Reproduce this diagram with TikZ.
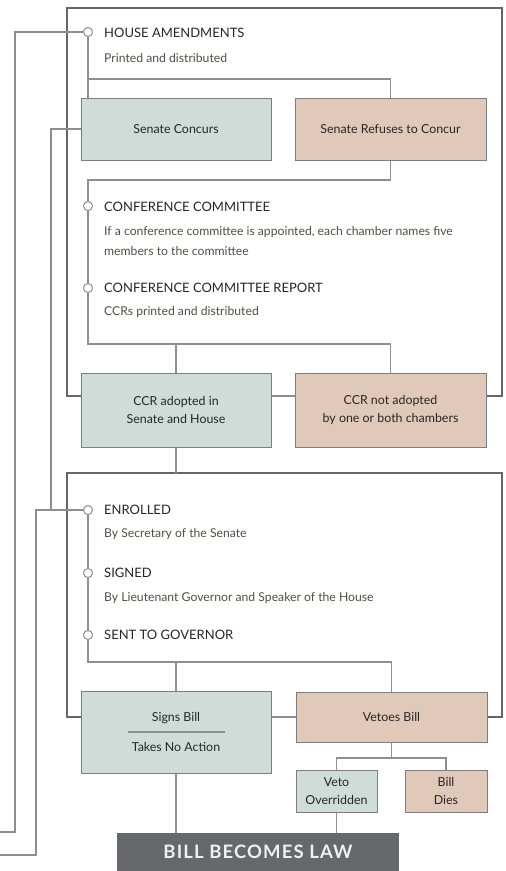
\documentclass[tikz,border=0pt]{standalone}
\usepackage{fontspec}
\setmainfont{Lato}
\usetikzlibrary{positioning}
\definecolor{sage}{HTML}{CFDCD8}
\definecolor{blush}{HTML}{E1C9BA}
\definecolor{boxgray}{HTML}{7E7E7E}
\definecolor{linegray}{HTML}{8E8E8E}
\definecolor{framegray}{HTML}{666666}
\definecolor{slate}{HTML}{67686B}
\definecolor{ink}{HTML}{262626}
\definecolor{notegray}{HTML}{524D49}
\tikzset{
  wire/.style={draw=linegray, line width=1.2pt},
  rim/.style={draw=framegray, line width=2.4pt},
  dot/.style={circle, draw=linegray, fill=white, line width=1pt, minimum size=9pt, inner sep=0pt},
  head/.style={anchor=west, inner sep=0pt, text=ink, font=\fontsize{13}{15}\selectfont},
  note/.style={anchor=west, inner sep=0pt, text=notegray, align=left, font=\fontsize{12.2}{20}\selectfont},
  okbox/.style={draw=boxgray, fill=sage, line width=1pt, inner sep=0pt, align=center, text=ink, font=\fontsize{12.4}{18.5}\selectfont},
  nobox/.style={okbox, fill=blush},
  lawbox/.style={fill=slate, text=white!94!black, inner sep=0pt, font=\fontsize{18.5}{20}\selectfont\bfseries\addfontfeature{LetterSpace=6}}
}
\begin{document}
\begin{tikzpicture}[x=1pt,y=-1pt]
\useasboundingbox (0,0) rectangle (506,871);
\node[okbox, minimum width=190pt, minimum height=62pt] (concur) at (176,129) {Senate Concurs};
\node[nobox, minimum width=191pt, minimum height=62pt] (refuse) at (390.5,129) {Senate Refuses to Concur};
\node[okbox, minimum width=190pt, minimum height=74pt] (adopt) at (176,410) {CCR adopted in\\Senate and House};
\node[nobox, minimum width=191pt, minimum height=74pt] (reject) at (390.5,410) {CCR not adopted\\by one or both chambers};
\node[okbox, minimum width=190pt, minimum height=82pt] (signs) at (176,732) {Signs Bill\\[11.5pt]Takes No Action};
\node[nobox, minimum width=191pt, minimum height=50pt] (veto) at (391.5,717) {Vetoes Bill};
\node[okbox, minimum width=81pt, minimum height=42pt] (override) at (336.5,791) {Veto\\Overridden};
\node[nobox, minimum width=82pt, minimum height=42pt] (dies) at (446,791) {Bill\\Dies};
\node[lawbox, minimum width=282pt, minimum height=38pt] (law) at (258,852) {BILL BECOMES LAW};

\node[dot] (amend) at (88,32) {};
\node[dot] (conf) at (88,206) {};
\node[dot] (report) at (88,288) {};
\node[dot] (enroll) at (88,510) {};
\node[dot] (signed) at (88,573) {};
\node[dot] (sent) at (88,635) {};

\node[head] (amendT) at (104,33) {HOUSE AMENDMENTS};
\node[note] (amendN) at (104,58) {Printed and distributed};
\node[head] (confT) at (104,207) {CONFERENCE COMMITTEE};
\node[note] (confN) at (104,241) {If a conference committee is appointed, each chamber names five\\members to the committee};
\node[head] (reportT) at (104,288) {CONFERENCE COMMITTEE REPORT};
\node[note] (reportN) at (104,312) {CCRs printed and distributed};
\node[head] (enrollT) at (104,510) {ENROLLED};
\node[note] (enrollN) at (104,534) {By Secretary of the Senate};
\node[head] (signedT) at (104,573) {SIGNED};
\node[note] (signedN) at (104,598) {By Lieutenant Governor and Speaker of the House};
\node[head] (sentT) at (104,635) {SENT TO GOVERNOR};

\coordinate (split) at (88,79);
\coordinate (rejoin) at (88,180);
\coordinate (merge) at (88,344);
\coordinate (fork) at (88,662);
\coordinate (vsplit) at (391.5,758);
\coordinate (exitA) at (0,832);
\coordinate (exitB) at (0,855);

\draw[rim] ([yshift=14pt]adopt.west) -| (67,8) -| (502,396) -- ([yshift=14pt]reject.east);
\draw[rim] (signs.west |- veto.west) -| (67,473) -| (502,717) -- (veto.east);

\draw[wire] (amend) -- (amend |- concur.north);
\draw[wire] (split) -| (refuse.north);
\draw[wire] (refuse.south) |- (rejoin) -- (conf);
\draw[wire] (conf) -- (report);
\draw[wire] (report) -- (merge) -| (reject.north);
\draw[wire] (adopt.north) -- (adopt.north |- merge);
\draw[wire] ([yshift=14pt]adopt.east) -- ([yshift=14pt]reject.west);
\draw[wire] (adopt.south) -- (adopt.south |- 0,473);
\draw[wire] (enroll) -- (signed);
\draw[wire] (signed) -- (sent);
\draw[wire] (sent) -- (fork) -| (veto.north);
\draw[wire] (signs.north) -- (signs.north |- fork);
\draw[wire] (signs.east |- veto.west) -- (veto.west);
\draw[wire] ([xshift=-48pt]signs.center) -- ([xshift=49pt]signs.center);
\draw[wire] (veto.south) -- (vsplit);
\draw[wire] (override.north) |- (vsplit) -| (dies.north);
\draw[wire] (override.south) -- (override.south |- law.north);
\draw[wire] (signs.south) -- (signs.south |- law.north);

\draw[wire] (amend) -- (15,32) |- (exitA);
\draw[wire] (enroll) -- (36,510) |- (exitB);
\draw[wire] (concur.west) -| (51,510);
\end{tikzpicture}
\end{document}
